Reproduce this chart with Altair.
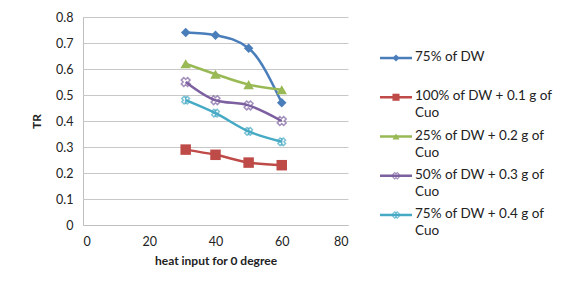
import altair as alt
import pandas as pd

x_vals = [31, 40, 50, 60]
series_names = [
    "75% of DW",
    "100% of DW +  0.1 g of Cuo",
    "25% of DW + 0.2 g of Cuo",
    "50% of DW + 0.3 g of Cuo",
    "75% of DW + 0.4 g of Cuo",
]
legend_labels = [
    "75% of DW",
    "100% of DW +  0.1 g of\nCuo",
    "25% of DW + 0.2 g of\nCuo",
    "50% of DW + 0.3 g of\nCuo",
    "75% of DW + 0.4 g of\nCuo",
]
s_blue = [0.74, 0.73, 0.68, 0.47]
s_red = [0.29, 0.27, 0.24, 0.23]
s_green = [0.62, 0.58, 0.54, 0.52]
s_purple = [0.55, 0.48, 0.46, 0.40]
s_cyan = [0.48, 0.43, 0.36, 0.32]
y_ticks = [0, 0.1, 0.2, 0.3, 0.4, 0.5, 0.6, 0.7, 0.8]
x_ticks = [0, 20, 40, 60, 80]
colors = ["#4a7ebb", "#be4b48", "#98b954", "#7d60a0", "#46aac5"]
shapes = ["diamond", "square", "triangle-up", "cross", "cross"]

all_vals = [s_blue, s_red, s_green, s_purple, s_cyan]
rows = []
for name, vals in zip(series_names, all_vals):
    for xv, yv in zip(x_vals, vals):
        rows.append({"series": name, "x": xv, "y": yv})
df = pd.DataFrame(rows)
leg_df = pd.DataFrame({"series": series_names, "label": legend_labels})
grid_df = pd.DataFrame({"y": y_ticks[1:]})

FONT = "Lato"
W, H = 265, 208
color_scale = alt.Scale(domain=series_names, range=colors)

xenc = alt.X("x:Q", scale=alt.Scale(domain=[0, 80]),
             axis=alt.Axis(values=x_ticks, title="heat input for 0 degree",
                           grid=False, ticks=False, domainColor="#bfbfbf",
                           labelPadding=10, titlePadding=8, labelOverlap=False))
yenc = alt.Y("y:Q", scale=alt.Scale(domain=[0, 0.8]),
             axis=alt.Axis(values=y_ticks,
                           format="~g", title="TR", grid=True, gridColor="#c8c8c8",
                           gridWidth=1, ticks=False, domainColor="#bfbfbf", labelPadding=10,
                           titlePadding=12, labelOverlap=False))

grid = alt.Chart(grid_df).mark_rule(color="#c8c8c8", strokeWidth=1, yOffset=0.5).encode(
    y=yenc, x=alt.value(0), x2=alt.value(W))

lines = alt.Chart(df).mark_line(interpolate="monotone", strokeWidth=2.5).encode(
    x=xenc, y=yenc,
    color=alt.Color("series:N", scale=color_scale, legend=None),
    detail="series:N",
)

pts_parts = []
for i, name in enumerate(series_names):
    sub = df[df.series == name]
    if i == 4:
        p1 = alt.Chart(sub).mark_point(shape="cross", filled=False, size=60, strokeWidth=1.5, color=colors[i]).encode(
            x=xenc, y=yenc, angle=alt.value(45))
        p2 = alt.Chart(sub).mark_point(shape="stroke", filled=False, size=60, strokeWidth=1.5, color=colors[i]).encode(
            x=xenc, y=yenc, angle=alt.value(90))
        pts_parts += [p1, p2]
    elif i == 3:
        p = alt.Chart(sub).mark_point(shape="cross", filled=False, size=80, strokeWidth=1.5, color=colors[i]).encode(
            x=xenc, y=yenc, angle=alt.value(45))
        pts_parts.append(p)
    else:
        size = {0: 90, 1: 110, 2: 110}[i]
        p = alt.Chart(sub).mark_point(shape=shapes[i], filled=True, size=size, opacity=1, color=colors[i]).encode(
            x=xenc, y=yenc)
        pts_parts.append(p)

# legend
ly = alt.Y("series:N", scale=alt.Scale(domain=series_names, range=[21.4, 217.6]), axis=None)
leg_line = alt.Chart(leg_df).mark_rule(strokeWidth=2.5).encode(
    x=alt.value(297), x2=alt.value(329), y=ly,
    color=alt.Color("series:N", scale=color_scale, legend=None))
leg_pts = []
for i, name in enumerate(series_names):
    sub = leg_df[leg_df.series == name]
    if i >= 3:
        leg_pts.append(alt.Chart(sub).mark_point(shape="cross", filled=False, size=40, strokeWidth=1.2,
                                                 color=colors[i]).encode(x=alt.value(313), y=ly, angle=alt.value(45)))
        if i == 4:
            leg_pts.append(alt.Chart(sub).mark_point(shape="stroke", filled=False, size=40, strokeWidth=1.2,
                                                     color=colors[i]).encode(x=alt.value(313), y=ly, angle=alt.value(90)))
    else:
        leg_pts.append(alt.Chart(sub).mark_point(shape=shapes[i], filled=True, size=50, opacity=1,
                                                 color=colors[i]).encode(x=alt.value(313), y=ly))
leg_text = alt.Chart(leg_df).mark_text(align="left", baseline="top", dy=-8, font=FONT, fontSize=13.5,
                                       lineBreak="\n", lineHeight=17, color="#222222").encode(
    x=alt.value(332), y=ly, text="label:N")

legend = alt.layer(leg_line, *leg_pts, leg_text)

border = alt.Chart(pd.DataFrame({"a": [0]})).mark_rule(color="#999999", strokeWidth=1).encode(
    x=alt.value(-78.5), x2=alt.value(560), y=alt.value(-12.5), y2=alt.value(-12.5))
border2 = alt.Chart(pd.DataFrame({"a": [0]})).mark_rule(color="#999999", strokeWidth=1).encode(
    x=alt.value(-78.5), x2=alt.value(-78.5), y=alt.value(-12.5), y2=alt.value(270))

main = alt.layer(grid, lines, *pts_parts)
chart = alt.layer(main, legend, border, border2).resolve_scale(y="independent").properties(
    width=W, height=H,
    autosize=alt.AutoSizeParams(type="none"),
    padding={"left": 75, "top": 9, "right": 217, "bottom": 49},
).configure_view(stroke=None).configure_axis(
    labelFont=FONT, titleFont=FONT, labelFontSize=12.5, titleFontSize=12, titleFontWeight="bold",
    labelColor="#222222", titleColor="#222222"
)

chart.save("out.html", embed_options={"renderer": "svg", "actions": False})
